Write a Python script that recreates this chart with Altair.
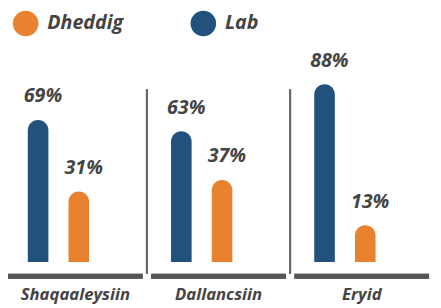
import altair as alt
import pandas as pd

groups = ["Shaqaaleysiin", "Dallancsiin", "Eryid"]
lab_vals = [69, 63, 88]
dheddig_vals = [31, 37, 13]
genders = ["Lab", "Dheddig"]
colors = {"Dheddig": "#E8822F", "Lab": "#22517E"}

rows = []
for g, l, d in zip(groups, lab_vals, dheddig_vals):
    rows.append({"group": g, "gender": "Lab", "value": l, "label": f"{l}%"})
    rows.append({"group": g, "gender": "Dheddig", "value": d, "label": f"{d}%"})
df = pd.DataFrame(rows)

FONT = "Open Sans"
W, H = 429, 204
P_IN = 0.06

xscale = alt.Scale(domain=groups, paddingInner=P_IN, paddingOuter=0)
xaxis = alt.Axis(title=None, domain=False, ticks=False, tickSize=0,
                 labelAngle=0, labelFont=FONT, labelFontSize=17,
                 labelFontWeight="bold", labelFontStyle="italic",
                 labelColor="#444444", labelPadding=25, grid=False)
xenc = alt.X("group:N", scale=xscale, sort=groups, axis=xaxis)
xoff = alt.XOffset("gender:N", sort=genders,
                   scale=alt.Scale(domain=genders, paddingInner=0.494,
                                   paddingOuter=0.9, align=0.27))
yscale = alt.Scale(domain=[-6.6, 100], nice=False, zero=False)
yenc = alt.Y("value:Q", scale=yscale, axis=None, stack=None)

color = alt.Color("gender:N",
                  scale=alt.Scale(domain=["Dheddig", "Lab"],
                                  range=[colors["Dheddig"], colors["Lab"]]),
                  legend=alt.Legend(title=None, orient="none", direction="horizontal",
                                    legendX=5, legendY=-52, symbolType="circle",
                                    symbolSize=676, symbolStrokeWidth=0,
                                    symbolOpacity=1, labelFont=FONT,
                                    labelFontSize=20, labelFontWeight="bold",
                                    labelFontStyle="italic", labelColor="#444444",
                                    labelOffset=9, columnPadding=68, padding=0))

base = alt.Chart(df)

bars = base.mark_bar(cornerRadiusTopLeft=10.5, cornerRadiusTopRight=10.5).encode(
    x=xenc, xOffset=xoff, y=yenc, y2=alt.value(H), color=color
)

texts = base.mark_text(font=FONT, fontSize=20, fontWeight="bold", fontStyle="italic",
                       color="#444444", baseline="alphabetic", dx=5, dy=-18).encode(
    x=xenc, xOffset=xoff, y=yenc, text="label:N"
)

baseline = base.mark_bar(color="#555555").encode(
    x=xenc, y=alt.value(H + 12), y2=alt.value(H + 17)
)

seps = base.transform_filter(alt.datum.group != groups[0]).mark_rule(
    color="#666666", strokeWidth=2
).encode(
    x=alt.X("group:N", scale=xscale, sort=groups, bandPosition=0, axis=xaxis),
    xOffset=alt.value(-4.4),
    y=alt.value(28), y2=alt.value(H + 12)
)

chart = alt.layer(baseline, seps, bars, texts).properties(
    width=W, height=H, padding={"left": 0, "right": 4, "top": 0, "bottom": 0}
).configure_view(stroke=None)

chart.save("out.html", embed_options={"renderer": "svg", "actions": False})
